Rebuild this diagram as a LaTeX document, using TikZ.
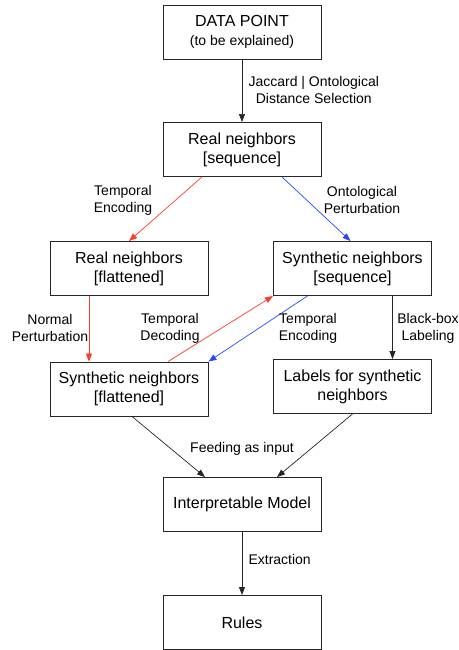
\documentclass[tikz,border=0pt]{standalone}
\usepackage{fontspec}
\setmainfont{Liberation Sans}
\usetikzlibrary{arrows.meta}
\definecolor{ered}{RGB}{250,62,42}
\definecolor{eblue}{RGB}{42,72,250}
\begin{document}
\begin{tikzpicture}[x=1pt,y=-1pt,
    box/.style={draw=black!85,line width=0.9pt,minimum width=158pt,minimum height=54pt,
        inner sep=0pt,align=center,font=\fontsize{16}{19}\selectfont},
    lbl/.style={align=center,font=\fontsize{14}{17}\selectfont},
    link/.style={-{Triangle[length=8pt,width=6pt]},line width=0.7pt,draw=black!85}]
\useasboundingbox (0,0) rectangle (458,650);
\node[box] (dp) at (242,32) {DATA POINT\\{\fontsize{14}{17}\selectfont(to be explained)}};
\node[box] (rs) at (242,149.5) {Real neighbors\\{}[sequence]};
\node[box] (rf) at (129,268.5) {Real neighbors\\{}[flattened]};
\node[box] (ss) at (352.5,268.5) {Synthetic neighbors\\{}[sequence]};
\node[box] (sf) at (129,389) {Synthetic neighbors\\{}[flattened]};
\node[box] (lb) at (352.5,386.5) {Labels for synthetic\\neighbors};
\node[box] (im) at (242,504.5) {Interpretable Model};
\node[box] (ru) at (242,622.5) {Rules};

\draw[link] (dp) -- (rs);
\draw[link,draw=ered] ([xshift=-40pt]rs.south) -- (rf.north);
\draw[link,draw=eblue] ([xshift=40pt]rs.south) -- ([xshift=-2pt]ss.north);
\draw[link,draw=ered] ([xshift=-40pt]rf.south) -- ([xshift=-40pt]sf.north);
\draw[link,draw=ered] ([xshift=39pt]sf.north) -- (ss.south west);
\draw[link,draw=eblue] ([xshift=-45pt]ss.south) -- (sf.north east);
\draw[link] ([xshift=40pt]ss.south) -- ([xshift=40pt]lb.north);
\draw[link] ([xshift=3pt]sf.south) -- ([xshift=-37pt]im.north);
\draw[link] (lb.south) -- ([xshift=35pt]im.north);
\draw[link] (im) -- (ru);

\node[lbl,anchor=west] (l1) at (245,90) {Jaccard | Ontological\\Distance Selection};
\node[lbl] (l2) at (123,200) {Temporal\\Encoding};
\node[lbl] (l3) at (362,200) {Ontological\\Perturbation};
\node[lbl] (l4) at (50,328) {Normal\\Perturbation};
\node[lbl] (l5) at (170,328) {Temporal\\Decoding};
\node[lbl] (l6) at (308,328) {Temporal\\Encoding};
\node[lbl] (l7) at (428,328) {Black-box\\Labeling};
\node[lbl] (l8) at (242,449) {Feeding as input};
\node[lbl,anchor=west] (l9) at (245,559) {Extraction};
\end{tikzpicture}
\end{document}
